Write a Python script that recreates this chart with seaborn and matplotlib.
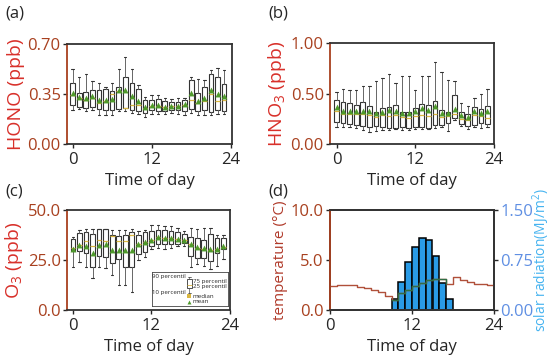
import matplotlib
matplotlib.use("Agg")
import matplotlib.pyplot as plt
import numpy as np
import pandas as pd
import seaborn as sns

# ------------------------------------------------------------------
# Data
# ------------------------------------------------------------------
HOURS = list(range(24))

# (a) HONO, ppb
HONO_P10 = [0.235, 0.245, 0.232, 0.24, 0.20, 0.20, 0.20, 0.232, 0.232, 0.215, 0.21, 0.19,
            0.21, 0.21, 0.21, 0.22, 0.21, 0.205, 0.22, 0.205, 0.20, 0.20, 0.21, 0.21]
HONO_Q1 = [0.27, 0.26, 0.25, 0.26, 0.245, 0.24, 0.235, 0.245, 0.25, 0.24, 0.228, 0.22,
           0.235, 0.232, 0.228, 0.24, 0.24, 0.232, 0.245, 0.228, 0.235, 0.222, 0.235, 0.232]
HONO_MED = [0.345, 0.32, 0.31, 0.32, 0.29, 0.30, 0.35, 0.37, 0.255, 0.27, 0.27, 0.255,
            0.265, 0.265, 0.26, 0.265, 0.265, 0.275, 0.31, 0.29, 0.30, 0.35, 0.30, 0.31]
HONO_Q3 = [0.425, 0.36, 0.365, 0.375, 0.38, 0.385, 0.37, 0.40, 0.47, 0.43, 0.385, 0.31,
           0.31, 0.315, 0.30, 0.295, 0.295, 0.31, 0.45, 0.355, 0.40, 0.49, 0.47, 0.42]
HONO_P90 = [0.525, 0.47, 0.49, 0.44, 0.43, 0.40, 0.43, 0.525, 0.61, 0.525, 0.41, 0.33,
            0.34, 0.34, 0.32, 0.315, 0.32, 0.32, 0.47, 0.455, 0.45, 0.515, 0.535, 0.515]
HONO_MEAN = [0.36, 0.33, 0.325, 0.333, 0.31, 0.31, 0.315, 0.38, 0.375, 0.337, 0.30, 0.262,
             0.27, 0.27, 0.262, 0.267, 0.267, 0.28, 0.356, 0.30, 0.32, 0.38, 0.35, 0.333]

# (b) HNO3, ppb
HNO3_P10 = [0.166, 0.166, 0.166, 0.156, 0.14, 0.123, 0.132, 0.14, 0.14, 0.146, 0.14, 0.14,
            0.146, 0.152, 0.146, 0.156, 0.166, 0.13, 0.238, 0.18, 0.152, 0.17, 0.156, 0.17]
HNO3_Q1 = [0.222, 0.205, 0.195, 0.19, 0.18, 0.172, 0.18, 0.172, 0.156, 0.156, 0.172, 0.156,
           0.172, 0.172, 0.162, 0.185, 0.19, 0.205, 0.255, 0.20, 0.18, 0.19, 0.205, 0.195]
HNO3_MED = [0.33, 0.30, 0.30, 0.30, 0.30, 0.29, 0.27, 0.29, 0.28, 0.29, 0.27, 0.26,
            0.28, 0.29, 0.28, 0.30, 0.27, 0.28, 0.30, 0.25, 0.24, 0.29, 0.28, 0.26]
HNO3_Q3 = [0.435, 0.42, 0.405, 0.39, 0.42, 0.38, 0.32, 0.355, 0.365, 0.385, 0.32, 0.32,
           0.355, 0.40, 0.39, 0.43, 0.34, 0.32, 0.49, 0.32, 0.30, 0.37, 0.35, 0.38]
HNO3_P90 = [0.515, 0.54, 0.535, 0.53, 0.575, 0.575, 0.625, 0.65, 0.695, 0.60, 0.675, 0.675,
            0.535, 0.67, 0.675, 0.815, 0.71, 0.635, 0.62, 0.41, 0.38, 0.455, 0.495, 0.545]
HNO3_MEAN = [0.364, 0.328, 0.33, 0.328, 0.328, 0.325, 0.305, 0.32, 0.337, 0.328, 0.31, 0.305,
             0.328, 0.354, 0.338, 0.377, 0.31, 0.305, 0.348, 0.285, 0.27, 0.328, 0.31, 0.328]

# (c) O3, ppb
O3_P10 = [21.7, 24.2, 21.7, 16.2, 21.7, 21.2, 17.6, 12.5, 12.5, 9.2, 25.1, 26.3,
          30.3, 30.8, 30.3, 31.1, 31.9, 31.9, 21.4, 23.1, 21.9, 20.7, 21.9, 25.3]
O3_Q1 = [29.3, 29.3, 28.4, 21.4, 27.1, 26.3, 23.4, 25.6, 21.7, 21.7, 27.9, 29.0,
         31.9, 32.8, 32.8, 33.1, 33.1, 33.6, 26.9, 26.1, 26.1, 24.4, 28.6, 30.3]
O3_MED = [31.0, 32.5, 34.6, 32.0, 34.8, 34.5, 37.0, 34.6, 34.3, 37.3, 33.0, 34.0,
          35.0, 36.5, 36.0, 36.0, 35.5, 35.0, 33.0, 31.0, 30.5, 30.0, 30.5, 31.5]
O3_Q3 = [35.5, 38.5, 38.8, 38.1, 40.4, 40.4, 37.6, 37.1, 37.3, 39.0, 37.6, 39.0,
         39.5, 39.8, 39.8, 39.5, 39.1, 37.8, 36.5, 35.8, 34.8, 37.8, 35.8, 36.1]
O3_P90 = [36.5, 40.1, 40.6, 40.6, 40.6, 40.6, 39.8, 39.8, 39.8, 40.5, 39.3, 40.1,
          42.5, 42.5, 42.0, 42.0, 41.1, 39.5, 41.1, 40.3, 40.8, 40.8, 37.5, 37.5]
O3_MEAN = [30.6, 32.3, 32.1, 28.4, 32.3, 32.9, 30.1, 30.1, 30.1, 30.1, 32.9, 33.9,
           35.0, 36.5, 36.1, 36.1, 35.6, 34.9, 32.8, 31.4, 31.1, 30.3, 30.6, 31.9]

# (d) temperature (degC, hourly step) and solar radiation (MJ/m2)
TEMP = [2.4, 2.5, 2.55, 2.5, 2.35, 2.2, 2.0, 1.8, 1.4, 1.0, 1.7, 2.05,
        2.45, 2.7, 3.0, 3.15, 3.1, 2.6, 3.3, 3.05, 2.8, 2.65, 2.6, 2.5]
RAD_HOURS = [8, 9, 10, 11, 12, 13, 14, 15, 16, 17, 18]
RAD = [0.0, 0.17, 0.42, 0.72, 0.95, 1.075, 1.055, 0.81, 0.41, 0.17, 0.0]

# ------------------------------------------------------------------
# Style
# ------------------------------------------------------------------
sns.set_theme(style="ticks")
plt.rcParams.update({
    "font.family": ["Open Sans", "DejaVu Sans"],
    "mathtext.default": "regular",
    "axes.linewidth": 1.3,
    "axes.edgecolor": "#333333",
    "xtick.major.size": 3,
    "ytick.major.size": 3,
    "xtick.major.width": 1.0,
    "ytick.major.width": 1.0,
    "xtick.major.pad": 2.5,
    "ytick.major.pad": 1.5,
    "xtick.labelsize": 12,
    "ytick.labelsize": 12,
    "axes.labelsize": 12,
})

RED_LABEL = "#d8302a"
RED_TICK = "#a8401f"
BLUE_TICK = "#5f8fe3"
BLUE_LABEL = "#45b3f0"
BAR_BLUE = "#2a9be6"
MED_COL = "#d9b640"
MEAN_COL = "#4f9a2c"

fig = plt.figure(figsize=(5.5, 3.56), dpi=100)
W, H = 550, 356


def add_ax(left, top, right, bottom):
    return fig.add_axes([left / W, 1 - bottom / H, (right - left) / W, (bottom - top) / H])


ax_a = add_ax(67, 44, 232, 144)
ax_b = add_ax(330, 43, 494, 144)
ax_c = add_ax(67, 210, 230, 310)
ax_d = add_ax(330, 210, 494, 310)


def draw_boxes(ax, p10, q1, med, q3, p90, mean):
    stats = [dict(whislo=a, q1=b, med=c, q3=d, whishi=e, fliers=[])
             for a, b, c, d, e in zip(p10, q1, med, q3, p90)]
    ax.bxp(stats, positions=HOURS, widths=0.72, showfliers=False, patch_artist=True,
           manage_ticks=False,
           boxprops=dict(facecolor="white", edgecolor="#333333", linewidth=0.8),
           whiskerprops=dict(color="#666666", linewidth=0.7),
           capprops=dict(color="#333333", linewidth=0.8),
           medianprops=dict(color=MED_COL, linewidth=0.9))
    sns.scatterplot(x=HOURS, y=mean, marker="^", s=18, color=MEAN_COL,
                    linewidth=0, ax=ax, zorder=5)


def style_ax(ax, ylabel, yticks, fmt, xlim):
    ax.set_xlim(*xlim)
    ax.set_xticks([0, 12, 24])
    ax.set_ylim(yticks[0], yticks[-1])
    ax.set_yticks(yticks)
    ax.set_yticklabels([fmt.format(v) for v in yticks], color=RED_TICK)
    ax.set_ylabel(ylabel, color=RED_LABEL, fontsize=14, labelpad=2)
    ax.set_xlabel("Time of day", fontsize=12, labelpad=4)
    ax.spines["left"].set_color(RED_TICK)


draw_boxes(ax_a, HONO_P10, HONO_Q1, HONO_MED, HONO_Q3, HONO_P90, HONO_MEAN)
style_ax(ax_a, "HONO (ppb)", [0, 0.35, 0.70], "{:.2f}", (-0.85, 24.2))

draw_boxes(ax_b, HNO3_P10, HNO3_Q1, HNO3_MED, HNO3_Q3, HNO3_P90, HNO3_MEAN)
style_ax(ax_b, "HNO$_3$ (ppb)", [0, 0.5, 1.0], "{:.2f}", (-1.0, 24.0))

draw_boxes(ax_c, O3_P10, O3_Q1, O3_MED, O3_Q3, O3_P90, O3_MEAN)
style_ax(ax_c, "O$_3$ (ppb)", [0, 25, 50], "{:.1f}", (-0.9, 23.9))

# legend key drawn inside panel (c)
key = ax_c.inset_axes([0.52, 0.04, 0.47, 0.345])
key.set_xlim(0, 1)
key.set_ylim(0, 1)
key.set_xticks([])
key.set_yticks([])
for s in key.spines.values():
    s.set_linewidth(0.6)
    s.set_color("#444444")
key.bxp([dict(whislo=0.39, q1=0.53, med=0.62, q3=0.77, whishi=0.85, fliers=[])],
        positions=[0.49], widths=0.07, showfliers=False, patch_artist=True, manage_ticks=False,
        boxprops=dict(facecolor="white", edgecolor="#333333", linewidth=0.6),
        whiskerprops=dict(color="#555555", linewidth=0.5),
        capprops=dict(color="#333333", linewidth=0.5),
        medianprops=dict(color=MED_COL, linewidth=0.6))
key.scatter([0.49], [0.28], marker="s", s=8, color=MED_COL, linewidth=0)
key.scatter([0.49], [0.125], marker="^", s=8, color=MEAN_COL, linewidth=0)
kfs = 4.4
key.text(0.44, 0.85, "90 percentil", ha="right", va="center", fontsize=kfs)
key.text(0.44, 0.39, "10 percentil", ha="right", va="center", fontsize=kfs)
key.text(0.535, 0.72, "75 percentil", ha="left", va="center", fontsize=kfs)
key.text(0.535, 0.56, "25 percentil", ha="left", va="center", fontsize=kfs)
key.text(0.535, 0.28, "median", ha="left", va="center", fontsize=kfs)
key.text(0.535, 0.125, "mean", ha="left", va="center", fontsize=kfs)

# (d) temperature + solar radiation
ax_r = ax_d.twinx()
ax_r.bar(RAD_HOURS, RAD, width=1.0, align="edge", color=BAR_BLUE,
         edgecolor="black", linewidth=1.1)
ax_r.set_ylim(0, 1.5)
ax_r.set_yticks([0, 0.75, 1.5])
ax_r.set_yticklabels(["0.00", "0.75", "1.50"], color=BLUE_TICK)
ax_r.set_ylabel("solar radiation(MJ/m$^2$)", color=BLUE_LABEL, fontsize=10)
ax_r.yaxis.set_label_coords(1.222, 0.5)

ax_d.set_zorder(ax_r.get_zorder() + 1)
ax_d.patch.set_visible(False)
temp_df = pd.DataFrame({"hour": HOURS + [24], "temp": TEMP + [TEMP[-1]]})
sns.lineplot(data=temp_df, x="hour", y="temp", drawstyle="steps-post",
             color="#b0503a", linewidth=1.0, ax=ax_d)
day = temp_df[(temp_df.hour >= 9) & (temp_df.hour <= 17)]
sns.lineplot(data=day, x="hour", y="temp", drawstyle="steps-post",
             color="#2f6e45", linewidth=1.0, ax=ax_d)
ax_d.set_ylim(0, 10)
ax_d.set_xlim(0, 24)
ax_d.set_xticks([0, 12, 24])
ax_d.set_yticks([0, 5, 10])
ax_d.set_yticklabels(["0.0", "5.0", "10.0"], color=RED_TICK)
ax_d.set_ylabel("temperature (\u00b0C)", color="#b03a2a", fontsize=11, labelpad=2)
ax_d.set_xlabel("Time of day", fontsize=12, labelpad=4)
ax_d.spines["left"].set_color(RED_TICK)

# panel letters
for txt, x, y in [("(a)", 5, 14), ("(b)", 268, 14), ("(c)", 5, 192), ("(d)", 268, 191)]:
    fig.text(x / W, 1 - y / H, txt, fontsize=12, ha="left", va="center")

fig.savefig("out.png", dpi=100, facecolor="white")
